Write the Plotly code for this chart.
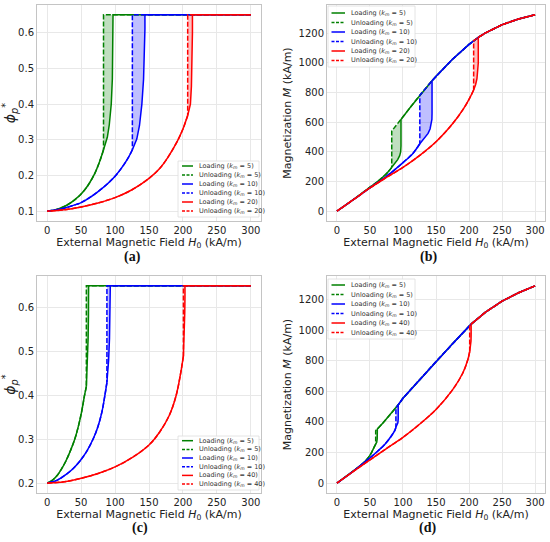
import plotly.graph_objects as go

W, H = 550, 542

# ---------------- panel (a): phi*_p vs H0, k_m = 5, 10, 20 ----------------
A5_LOW_H = [0, 10, 20, 30, 40, 50, 60, 70, 78, 83]
A5_LOW_Y = [0.100, 0.103, 0.109, 0.118, 0.131, 0.148, 0.172, 0.205, 0.243, 0.272]
A5_RISE_H = [86, 88.6, 91.5, 94.4, 96, 97, 97]
A5_RISE_Y = [0.290, 0.307, 0.342, 0.400, 0.470, 0.580, 0.650]

A10_LOW_H = [0, 20, 43, 50, 75, 100, 118, 125.5]
A10_LOW_Y = [0.100, 0.106, 0.119, 0.124, 0.155, 0.198, 0.245, 0.272]
A10_RISE_H = [129, 132, 136, 139.5, 142, 143.5, 144, 144]
A10_RISE_Y = [0.287, 0.302, 0.340, 0.400, 0.470, 0.550, 0.610, 0.650]

A20_LOW_H = [0, 25, 50, 75, 100, 125, 150, 165, 177.6, 192, 200, 204.5, 207]
A20_LOW_Y = [0.100, 0.104, 0.112, 0.123, 0.138, 0.160, 0.192, 0.218, 0.250, 0.297, 0.330, 0.354, 0.368]
A20_RISE_H = [209.5, 211, 212.5, 213.5, 214, 214]
A20_RISE_Y = [0.385, 0.400, 0.450, 0.520, 0.600, 0.650]

A_UP_H = [83, 97, 125.5, 144, 207, 214, 300]
A_UP_Y = [0.65, 0.65, 0.65, 0.65, 0.65, 0.65, 0.65]

# ---------------- panel (b): M vs H0, k_m = 5, 10, 20 ----------------
B5_LOW_H = [0, 25, 50, 60, 70, 78, 83]
B5_LOW_M = [0, 79, 162, 195, 232, 268, 296]
B5_RISE_H = [88, 92, 95, 96.5, 97, 97]
B5_RISE_M = [322, 348, 375, 400, 440, 618]

B10_LOW_H = [0, 25, 50, 75, 100, 115, 125.5]
B10_LOW_M = [0, 78, 158, 235, 328, 390, 455]
B10_RISE_H = [130, 134, 138, 141, 143, 143.8, 144, 144]
B10_RISE_M = [480, 500, 525, 555, 590, 620, 660, 880]

B20_LOW_H = [0, 25, 50, 75, 100, 125, 150, 175, 190, 200, 207]
B20_LOW_M = [0, 78, 157, 228, 296, 375, 468, 590, 680, 755, 818]
B20_RISE_H = [210, 212, 213.3, 214, 214]
B20_RISE_M = [855, 895, 940, 1000, 1172]

B_UP_H = [83, 90, 97, 110, 125.5, 144, 150, 175, 200, 207, 214, 225, 250, 275, 300]
B_UP_M = [541, 578, 618, 695, 782, 880, 910, 1025, 1125, 1150, 1172, 1203, 1258, 1297, 1325]

# ---------------- panel (c): phi*_p vs H0, k_m = 5, 10, 40 ----------------
C5_LOW_H = [0, 8, 15, 21, 27.4, 34, 40.6, 46, 51, 55, 57.7]
C5_LOW_Y = [0.200, 0.207, 0.218, 0.232, 0.250, 0.273, 0.300, 0.330, 0.365, 0.400, 0.420]
C5_RISE_H = [59.2, 60.3, 60.8, 61, 61]
C5_RISE_Y = [0.470, 0.530, 0.580, 0.620, 0.650]

C10_LOW_H = [0, 15, 28, 38, 48, 58, 67.5, 75, 81, 85, 88]
C10_LOW_Y = [0.200, 0.207, 0.220, 0.233, 0.250, 0.272, 0.300, 0.330, 0.365, 0.400, 0.430]
C10_RISE_H = [90.5, 91.8, 92.6, 93, 93]
C10_RISE_Y = [0.480, 0.530, 0.580, 0.620, 0.650]

C40_LOW_H = [0, 25, 50, 75, 100, 125, 150, 165, 180, 190, 196, 200.7]
C40_LOW_Y = [0.200, 0.203, 0.211, 0.222, 0.237, 0.258, 0.287, 0.315, 0.355, 0.400, 0.445, 0.490]
C40_RISE_H = [202, 202.7, 203, 203]
C40_RISE_Y = [0.540, 0.590, 0.625, 0.650]

C_UP_H = [57.7, 61, 88, 93, 200.7, 203, 300]
C_UP_Y = [0.65, 0.65, 0.65, 0.65, 0.65, 0.65, 0.65]

# ---------------- panel (d): M vs H0, k_m = 5, 10, 40 ----------------
D5_LOW_H = [0, 25, 40, 48, 53, 56, 58.7]
D5_LOW_M = [0, 80, 132, 170, 205, 232, 255]
D5_RISE_H = [60.3, 61, 61.2, 61.2]
D5_RISE_M = [268, 290, 320, 354]

D10_LOW_H = [0, 25, 50, 62, 72.7, 82.7, 87.7, 89.3]
D10_LOW_M = [0, 79, 165, 210, 255, 310, 345, 365]
D10_RISE_H = [91, 92.3, 92.8, 92.8]
D10_RISE_M = [380, 395, 420, 512]

D40_LOW_H = [0, 25, 50, 75, 100, 125, 150, 175, 190.6, 198, 201]
D40_LOW_M = [0, 77, 152, 226, 299, 385, 482, 610, 720, 805, 860]
D40_RISE_H = [202.3, 203, 203.2, 203.2]
D40_RISE_M = [890, 930, 970, 1040]

D_UP_H = [58.7, 61.2, 70, 80, 89.3, 92.8, 100, 125, 150, 175, 201, 203.2, 225, 250, 275, 300]
D_UP_M = [343, 354, 395, 445, 492, 512, 555, 675, 795, 912, 1030, 1040, 1118, 1190, 1245, 1290]

KM_AB = [5, 10, 20]
KM_CD = [5, 10, 40]
COLORS = ["#008000", "#0000ff", "#ff0000"]
FILLS = ["rgba(0,128,0,0.25)", "rgba(0,0,255,0.25)", "rgba(255,0,0,0.25)"]


def branches(low_h, low_y, rise_h, rise_y, up_h, up_y):
    hu, hs = low_h[-1], rise_h[-1]
    low = list(zip(low_h, low_y))
    rise = list(zip(rise_h, rise_y))
    up = [p for p in zip(up_h, up_y) if p[0] >= hu]
    load_top = [low[-1]] + rise + [p for p in up if p[0] > hs]
    unload_top = up[::-1] + [low[-1]]
    loop = [low[-1]] + rise + [p for p in up if p[0] < hs][::-1]
    return low, load_top, unload_top, loop


panels = [
    ("x", "y", [(A5_LOW_H, A5_LOW_Y, A5_RISE_H, A5_RISE_Y),
                (A10_LOW_H, A10_LOW_Y, A10_RISE_H, A10_RISE_Y),
                (A20_LOW_H, A20_LOW_Y, A20_RISE_H, A20_RISE_Y)], A_UP_H, A_UP_Y),
    ("x2", "y2", [(B5_LOW_H, B5_LOW_M, B5_RISE_H, B5_RISE_M),
                  (B10_LOW_H, B10_LOW_M, B10_RISE_H, B10_RISE_M),
                  (B20_LOW_H, B20_LOW_M, B20_RISE_H, B20_RISE_M)], B_UP_H, B_UP_M),
    ("x3", "y3", [(C5_LOW_H, C5_LOW_Y, C5_RISE_H, C5_RISE_Y),
                  (C10_LOW_H, C10_LOW_Y, C10_RISE_H, C10_RISE_Y),
                  (C40_LOW_H, C40_LOW_Y, C40_RISE_H, C40_RISE_Y)], C_UP_H, C_UP_Y),
    ("x4", "y4", [(D5_LOW_H, D5_LOW_M, D5_RISE_H, D5_RISE_M),
                  (D10_LOW_H, D10_LOW_M, D10_RISE_H, D10_RISE_M),
                  (D40_LOW_H, D40_LOW_M, D40_RISE_H, D40_RISE_M)], D_UP_H, D_UP_M),
]


def xs(pts):
    return [p[0] for p in pts]


def ys(pts):
    return [p[1] for p in pts]


fig = go.Figure()
for xa, ya, series, up_h, up_y in panels:
    curves = [branches(*s, up_h, up_y) for s in series]
    for (low, load_top, unload_top, loop), fc in zip(curves, FILLS):
        fig.add_trace(go.Scatter(x=xs(loop), y=ys(loop), xaxis=xa, yaxis=ya,
                                 mode="lines", fill="toself", fillcolor=fc, line=dict(width=0),
                                 showlegend=False, hoverinfo="skip"))
    for (low, load_top, unload_top, loop), c in zip(curves, COLORS):
        solid = dict(color=c, width=1.5)
        dashed = dict(color=c, width=1.5, dash="5px,2px")
        # loading: smooth lower branch, then the steep rise and the saturated branch
        fig.add_trace(go.Scatter(x=xs(low), y=ys(low), xaxis=xa, yaxis=ya, mode="lines",
                                 line=dict(solid, shape="spline", smoothing=1), showlegend=False))
        fig.add_trace(go.Scatter(x=xs(load_top), y=ys(load_top), xaxis=xa, yaxis=ya, mode="lines",
                                 line=solid, showlegend=False))
        # unloading: saturated branch back, vertical drop, then back down the lower branch
        fig.add_trace(go.Scatter(x=xs(unload_top), y=ys(unload_top), xaxis=xa, yaxis=ya, mode="lines",
                                 line=dashed, showlegend=False))
        fig.add_trace(go.Scatter(x=xs(low[::-1]), y=ys(low[::-1]), xaxis=xa, yaxis=ya, mode="lines",
                                 line=dict(dashed, shape="spline", smoothing=1), showlegend=False))

FONT = "DejaVu Sans"
GRID = "#e8e8e8"
FRAME = "#c4c4c4"


def px_x(px):
    return px / W


def px_y(py):
    return 1 - py / H


XT = "External Magnetic Field <i>H</i><sub>0</sub> (kA/m)"
PHI = "<i>ϕ</i><sub><i>p</i></sub><sup>*</sup>"
MT = "Magnetization <i>M</i> (kA/m)"

xdom = {"a": [px_x(37), px_x(261)], "b": [px_x(327), px_x(545)]}
ydom = {"top": [px_y(221), px_y(5)], "bot": [px_y(493), px_y(276)]}

axis_common = dict(showgrid=True, gridcolor=GRID, gridwidth=1, zeroline=False, showline=True,
                   linecolor=FRAME, linewidth=1, mirror=True, ticks="",
                   tickfont=dict(family=FONT, size=10, color="#222"))
xcommon = dict(axis_common, range=[-15, 315], tickvals=[0, 50, 100, 150, 200, 250, 300],
               title=dict(text=XT, font=dict(family=FONT, size=11, color="#222"), standoff=2))

fig.update_layout(
    width=W, height=H, margin=dict(l=0, r=0, t=0, b=0),
    plot_bgcolor="white", paper_bgcolor="white", showlegend=False,
    xaxis=dict(xcommon, domain=xdom["a"], anchor="y"),
    yaxis=dict(axis_common, domain=ydom["top"], anchor="x", range=[0.0725, 0.6775],
               tickvals=[0.1, 0.2, 0.3, 0.4, 0.5, 0.6], tickformat=".1f",
               title=dict(text=PHI, font=dict(family=FONT, size=14, color="#222"), standoff=4)),
    xaxis2=dict(xcommon, domain=xdom["b"], anchor="y2"),
    yaxis2=dict(axis_common, domain=ydom["top"], anchor="x2", range=[-66, 1391],
                tickvals=[0, 200, 400, 600, 800, 1000, 1200],
                title=dict(text=MT, font=dict(family=FONT, size=11, color="#222"), standoff=4)),
    xaxis3=dict(xcommon, domain=xdom["a"], anchor="y3"),
    yaxis3=dict(axis_common, domain=ydom["bot"], anchor="x3", range=[0.1775, 0.6725],
                tickvals=[0.2, 0.3, 0.4, 0.5, 0.6], tickformat=".1f",
                title=dict(text=PHI, font=dict(family=FONT, size=14, color="#222"), standoff=4)),
    xaxis4=dict(xcommon, domain=xdom["b"], anchor="y4"),
    yaxis4=dict(axis_common, domain=ydom["bot"], anchor="x4", range=[-64.5, 1354.5],
                tickvals=[0, 200, 400, 600, 800, 1000, 1200],
                title=dict(text=MT, font=dict(family=FONT, size=11, color="#222"), standoff=4)),
)

# hand-drawn compact legends (plotly's own rows are too tall at this size)
shapes, annotations = [], []


def draw_legend(box, lx0, lx1, tx, rows, kms):
    x0, y0, x1, y1 = box
    shapes.append(dict(type="rect", xref="paper", yref="paper", x0=px_x(x0), x1=px_x(x1),
                       y0=px_y(y1), y1=px_y(y0), line=dict(color="#dddddd", width=0.8),
                       fillcolor="rgba(255,255,255,0.85)", layer="above"))
    i = 0
    for k, c in zip(kms, COLORS):
        for kind, dash in (("Loading", "solid"), ("Unloading", "3px,1.5px")):
            ry = rows[i]
            shapes.append(dict(type="line", xref="paper", yref="paper", x0=px_x(lx0), x1=px_x(lx1),
                               y0=px_y(ry), y1=px_y(ry), line=dict(color=c, width=1.5, dash=dash),
                               layer="above"))
            annotations.append(dict(xref="paper", yref="paper", x=px_x(tx), y=px_y(ry),
                                    xanchor="left", yanchor="middle", showarrow=False,
                                    text=f"{kind} (<i>k</i><sub><i>m</i></sub> = {k})",
                                    font=dict(family=FONT, size=6.5, color="#333")))
            i += 1


draw_legend((178, 161, 259, 217), 182, 193, 197, [166, 175, 184, 193, 202, 211], KM_AB)
draw_legend((328, 6, 415, 67), 331.5, 345, 349, [13, 22.5, 32, 41.5, 51, 60.5], KM_AB)
draw_legend((178, 436, 259, 490), 182, 193, 197, [440.7, 449.4, 458, 466.7, 475.4, 484], KM_CD)
draw_legend((328, 279, 415, 339), 331.5, 345, 349, [285, 294.5, 304, 313.5, 323, 332.5], KM_CD)

for lab, cx, cy in (("(a)", 132, 257), ("(b)", 428, 257), ("(c)", 140, 528), ("(d)", 427, 528)):
    annotations.append(dict(xref="paper", yref="paper", x=px_x(cx), y=px_y(cy), showarrow=False,
                            xanchor="center", yanchor="middle", text=f"<b>{lab}</b>",
                            font=dict(family="Liberation Serif", size=14, color="#111")))

fig.update_layout(shapes=shapes, annotations=annotations)
# the page body has a default 8px margin; drop it so the figure fills the window
fig.write_html("out.html", config={"displayModeBar": False},
               post_script="document.body.style.margin='0';")
